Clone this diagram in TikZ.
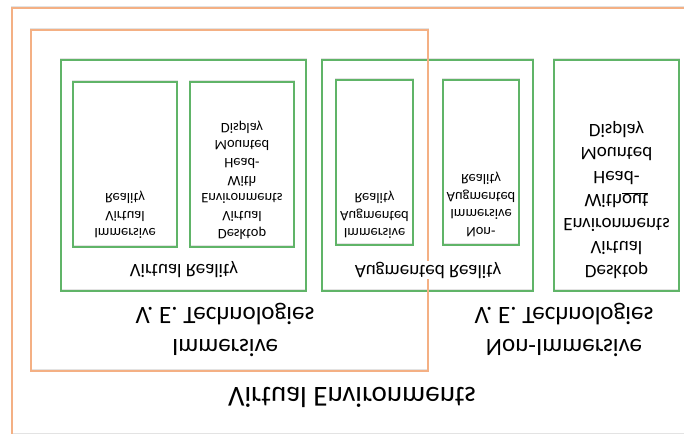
\documentclass[tikz,border=0pt]{standalone}
\usepackage{fontspec}
\setmainfont{Carlito}
\usepackage{tikz}
\usetikzlibrary{fit}
\definecolor{veorange}{RGB}{244,176,132}
\definecolor{vegreen}{RGB}{96,180,104}
\tikzset{
  boxshadow/.style={preaction={draw=black!11, line width=2.6pt, transform canvas={yshift=1.1pt}}},
  obox/.style={boxshadow, draw=veorange, line width=2pt, inner sep=0pt},
  gbox/.style={boxshadow, draw=vegreen, line width=1.8pt, inner sep=0pt},
  upsidedown/.style={yscale=-1, align=center, inner sep=1pt},
  bigtext/.style={upsidedown, font=\fontsize{29}{35}\selectfont},
  grouptext/.style={upsidedown, font=\fontsize{25}{32}\selectfont},
  midtext/.style={upsidedown, font=\fontsize{19}{23.5}\selectfont},
  smalltext/.style={upsidedown, font=\fontsize{14.5}{17.7}\selectfont}
}
\begin{document}
\begin{tikzpicture}[x=1pt,y=-1pt]
\useasboundingbox (0,0) rectangle (684,433);
% green boxes
\node[gbox, fit={(61,60) (306,291)}] (vrbox) {};
\node[gbox, fit={(73,82) (177,247)}] (ivrbox) {};
\node[gbox, fit={(190,82) (294,247)}] (dvrbox) {};
\node[gbox, fit={(322,60) (533,291)}] (arbox) {};
\node[gbox, fit={(336,80) (413,245)}] (iarbox) {};
\node[gbox, fit={(443,80) (519,245)}] (narbox) {};
\node[gbox, fit={(554,60) (679,291)}] (dvebox) {};
% orange boxes
\node[obox, fit={(12,8) (690,435)}] (vebox) {};
\node[obox, fit={(31,30) (428,371)}] (immbox) {};
% labels
\node[bigtext] (velabel) at (352,397) {Virtual Environments};
\node[grouptext] (immlabel) at (225,330) {Immersive\\V. E. Technologies};
\node[grouptext] (nimmlabel) at (564,330) {Non-Immersive\\V. E. Technologies};
\node[midtext] (vrlabel) at (184,270) {Virtual Reality};
\node[midtext, fill=white] (arlabel) at (428,270) {Augmented Reality};
\node[midtext] (dvelabel) at (616.5,200) {Desktop\\Virtual\\Environments\\With\underline{out}\\Head-\\Mounted\\Display};
\node[smalltext] (ivrlabel) at (125,215) {Immersive\\Virtual\\Reality};
\node[smalltext] (dvrlabel) at (242,180) {Desktop\\Virtual\\Environments\\With\\Head-\\Mounted\\Display};
\node[smalltext] (iarlabel) at (374.5,215) {Immersive\\Augmented\\Reality};
\node[smalltext] (narlabel) at (481,204.5) {Non-\\Immersive\\Augmented\\Reality};
\end{tikzpicture}
\end{document}
